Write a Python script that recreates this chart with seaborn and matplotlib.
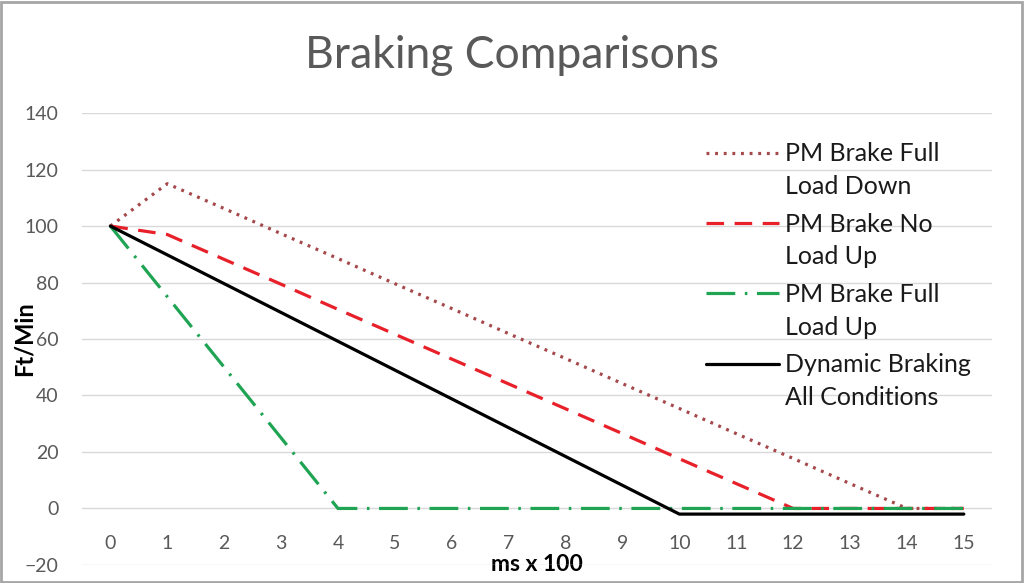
# Braking comparisons line chart
import numpy as np
import pandas as pd
import matplotlib
matplotlib.use('Agg')
import matplotlib.pyplot as plt
import seaborn as sns
from matplotlib.legend_handler import HandlerLine2D

x_ticks = list(range(16))
full_load_down = [100, 115, 106.2, 97.3, 88.5, 79.6, 70.8, 61.9, 53.1, 44.2, 35.4, 26.5, 17.7, 8.8, 0, 0]
no_load_up = [100, 97, 88.2, 79.4, 70.5, 61.7, 52.9, 44.1, 35.3, 26.5, 17.6, 8.8, 0, 0, 0, 0]
full_load_up = [100, 75, 50, 25, 0, 0, 0, 0, 0, 0, 0, 0, 0, 0, 0, 0]
dynamic = [100, 89.8, 79.6, 69.4, 59.2, 49, 38.8, 28.6, 18.4, 8.2, -2, -2, -2, -2, -2, -2]

labels = ['PM Brake Full\nLoad Down', 'PM Brake No\nLoad Up',
          'PM Brake Full\nLoad Up', 'Dynamic Braking\nAll Conditions']
y_ticks = [-20, 0, 20, 40, 60, 80, 100, 120, 140]


# handle sits next to the first line of a two-line label
class TopHandler(HandlerLine2D):
    def create_artists(self, legend, orig_handle, xdescent, ydescent,
                       width, height, fontsize, trans):
        arts = super().create_artists(legend, orig_handle, xdescent, ydescent,
                                      width, height, fontsize, trans)
        for a in arts:
            a.set_ydata(np.asarray(a.get_ydata()) + 0.72 * fontsize)
        return arts


sns.set_theme(style='white')
plt.rcParams['font.family'] = ['Lato', 'DejaVu Sans']

fig = plt.figure(figsize=(10.24, 5.83), dpi=100)
ax = fig.add_axes([0.080, 0.031, 0.889, 0.775])

styles = [
    dict(color='#A5484C', dashes=(0.9, 1.8)),
    dict(color='#E8202A', dashes=(5.5, 3.3)),
    dict(color='#1FA454', dashes=(9, 3, 0.8, 3)),
    dict(color='#000000', dashes=()),
]
series = [full_load_down, no_load_up, full_load_up, dynamic]
for vals, lab, st in zip(series, labels, styles):
    sns.lineplot(x=x_ticks, y=vals, ax=ax, label=lab, color=st['color'],
                 lw=2.3, zorder=3)
    line = ax.lines[-1]
    if st['dashes']:
        line.set_dashes(st['dashes'])

ax.set_xlim(-0.5, 15.5)
ax.set_ylim(-20, 140)
ax.set_yticks(y_ticks)
ax.set_xticks(x_ticks)
ax.yaxis.grid(True, color='#D9D9D9', lw=1)
ax.xaxis.grid(False)
for s in ax.spines.values():
    s.set_visible(False)
ax.spines['bottom'].set_position(('data', 0))
ax.tick_params(axis='x', length=0, pad=19, labelsize=14, labelcolor='#595959')
ax.tick_params(axis='y', length=0, pad=17, labelsize=14, labelcolor='#595959')

ax.set_xlabel('ms x 100', fontsize=16.5, fontweight='bold', color='#000000')
ax.xaxis.set_label_coords(0.5, 0.0)
ax.xaxis.label.set_va('center')
ax.set_ylabel('Ft/Min', fontsize=17, fontweight='bold', color='#000000')
ax.yaxis.set_label_coords(-0.064, 0.5)
ax.yaxis.label.set_va('center')

fig.suptitle('Braking Comparisons', y=0.905, va='center', fontsize=32, color='#595959')

leg = ax.legend(loc='upper left', bbox_to_anchor=(0.686, 0.935), frameon=False,
                fontsize=18, handlelength=2.9, handletextpad=0.25,
                labelspacing=0.57, borderpad=0, borderaxespad=0,
                handler_map={plt.Line2D: TopHandler()})
for t in leg.get_texts():
    t.set_linespacing(1.52)
    t.set_color('#1a1a1a')

fig.patches.append(plt.Rectangle((0.001, 0.002), 0.997, 0.995, transform=fig.transFigure,
                                 fill=False, edgecolor='#A6A6A6', lw=2))
fig.savefig('out.png', dpi=100)
